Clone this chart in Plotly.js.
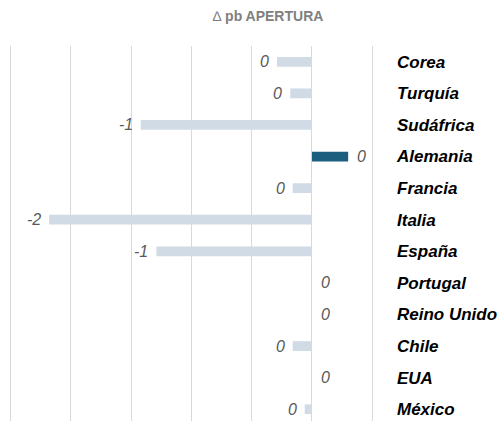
<!DOCTYPE html>
<html>
<head>
<meta charset="utf-8">
<script src="https://cdn.plot.ly/plotly-3.0.1.min.js"></script>
<style>
html, body { margin: 0; padding: 0; overflow: hidden; background: #fff; }
#chart { width: 500px; height: 425px; }
</style>
</head>
<body>
<div id="chart"></div>
<script>
const categories = ["Corea", "Turquía", "Sudáfrica", "Alemania", "Francia", "Italia", "España", "Portugal", "Reino Unido", "Chile", "EUA", "México"];
const values = [-0.29, -0.18, -1.42, 0.30, -0.16, -2.18, -1.29, 0, 0, -0.16, 0, -0.06];
const highlight = "Alemania";
const titleSymbol = "∆";
const titleText = "pb APERTURA";

const labels = values.map(v => String(Math.round(v) || 0));
const colors = categories.map(c => c === highlight ? "#1B5E7E" : "#D1DBE6");

const trace = {
  type: "bar",
  orientation: "h",
  x: values,
  y: categories,
  marker: { color: colors },
  width: 0.31,
  hoverinfo: "none"
};

const annotations = values.map((v, i) => ({
  x: v,
  y: categories[i],
  xref: "x",
  yref: "y",
  text: "<i>" + labels[i] + "</i>",
  showarrow: false,
  xanchor: v < 0 ? "right" : "left",
  xshift: v < 0 ? -6 : 7,
  font: { family: "Liberation Sans, Arial, sans-serif", size: 16, color: "#595959" }
}));

const layout = {
  width: 500,
  height: 425,
  margin: { l: 0, r: 110, t: 46, b: 0, pad: 0 },
  paper_bgcolor: "#ffffff",
  plot_bgcolor: "#ffffff",
  title: {
    text: titleSymbol + " <b>" + titleText + "</b>",
    font: { family: "Liberation Sans, Arial, sans-serif", size: 14, color: "#808080" },
    x: 0.536, xanchor: "center",
    y: 0.962, yanchor: "middle"
  },
  xaxis: {
    range: [-2.587, 0.647],
    dtick: 0.5,
    tick0: 0,
    showgrid: true,
    gridcolor: "#D9D9D9",
    gridwidth: 1,
    zeroline: true,
    zerolinecolor: "#D9D9D9",
    zerolinewidth: 1,
    showticklabels: false,
    ticks: "",
    showline: false,
    fixedrange: true
  },
  yaxis: {
    side: "right",
    autorange: "reversed",
    type: "category",
    showgrid: false,
    zeroline: false,
    showline: false,
    ticks: "",
    ticklabelstandoff: 6,
    tickfont: { family: "Liberation Sans, Arial, sans-serif", size: 17, color: "#000000", weight: "bold", style: "italic" },
    fixedrange: true
  },
  annotations: annotations,
  showlegend: false
};

Plotly.newPlot("chart", [trace], layout, { displayModeBar: false, staticPlot: true });
</script>
</body>
</html>
